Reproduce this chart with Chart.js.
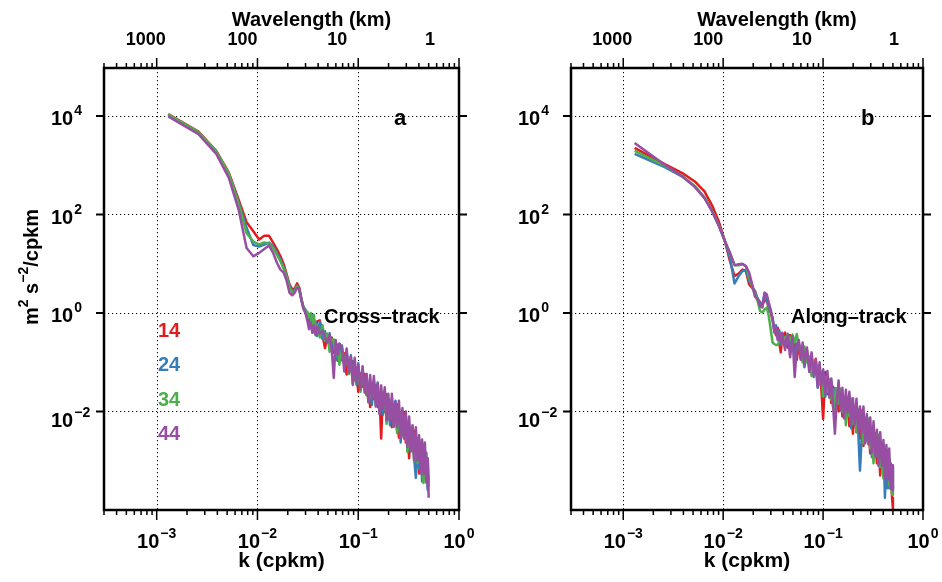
<!DOCTYPE html>
<html>
<head>
<meta charset="utf-8">
<script src="https://cdn.jsdelivr.net/npm/chart.js@4.4.1/dist/chart.umd.min.js"></script>
<style>
  html, body { margin: 0; padding: 0; background: #fff; }
  #wrap { position: relative; width: 942px; height: 582px; }
  canvas { position: absolute; top: 0; left: 0; }
</style>
</head>
<body>
<div id="wrap">
  <canvas id="panelA" width="942" height="582"></canvas>
  <canvas id="panelB" width="942" height="582"></canvas>
</div>
<script>
// Wavenumber k (cpkm) shared by every spectrum
const wavenumber = [
  0.0013, 0.0026, 0.0039, 0.0052, 0.0065, 0.0078, 0.0091, 0.0104, 0.0117, 0.013,
  0.0143, 0.0156, 0.0169, 0.0182, 0.0195, 0.0208, 0.0221, 0.0234, 0.0247, 0.026,
  0.0273, 0.0286, 0.0299,
  0.0312, 0.0325, 0.0338, 0.0351, 0.0364, 0.0377, 0.039, 0.0416, 0.0442, 0.0468,
  0.0494, 0.052, 0.0546, 0.0572, 0.0598, 0.0624, 0.065, 0.0689, 0.0728, 0.0767,
  0.0806, 0.0845, 0.0884, 0.0923, 0.0962, 0.1001, 0.1053, 0.1105, 0.1157, 0.1209,
  0.1261, 0.1313, 0.1365, 0.143, 0.1495, 0.156, 0.1625, 0.169, 0.1755, 0.1833,
  0.1911, 0.1989, 0.2067, 0.2158, 0.2249, 0.234, 0.2431, 0.2535, 0.2639, 0.2743,
  0.2847, 0.2964, 0.3081, 0.3198, 0.3328, 0.3458, 0.3588, 0.3731, 0.3874, 0.4017,
  0.416, 0.4303, 0.4446, 0.4589, 0.4745, 0.4901, 0.5
];

// Spectral levels, stored as log10 of (m^2 s^-2 / cpkm)
// Cross-track spectra, levels 14 / 24 / 34 / 44
const crossTrack14 = [
  4.04, 3.68, 3.29, 2.85, 2.30, 1.84, 1.66, 1.49, 1.57, 1.57, 1.43, 1.29, 1.15, 0.99, 0.78, 0.58, 0.48, 0.49, 0.60, 0.51, 0.28, 0.11, 0.05,
  0.00, -0.19, -0.03, -0.40, -0.18, -0.38, -0.17, -0.15, -0.45, -0.71, -0.46, -0.65, -0.50, -0.81, -0.70, -0.97, -0.63, -0.96, -0.82, -1.25,
  -0.96, -1.16, -0.98, -1.36, -1.18, -1.60, -1.23, -1.50, -1.24, -1.67, -1.46, -1.91, -1.44, -1.75, -1.46, -1.91, -1.65, -2.55, -1.64, -2.01,
  -1.65, -2.16, -1.86, -2.32, -1.86, -2.20, -1.86, -2.53, -2.08, -2.48, -2.03, -2.63, -2.34, -2.95, -2.34, -2.81, -2.39, -3.02, -2.65, -3.26,
  -2.66, -3.17, -2.68, -3.38, -2.99, -3.55, -3.35
];
const crossTrack24 = [
  4.02, 3.66, 3.27, 2.82, 2.25, 1.73, 1.38, 1.35, 1.39, 1.43, 1.35, 1.22, 1.08, 0.93, 0.74, 0.55, 0.44, 0.45, 0.55, 0.48, 0.28, 0.12, 0.07,
  -0.08, -0.03, -0.27, -0.05, -0.32, -0.18, -0.47, -0.18, -0.53, -0.37, -0.60, -0.41, -0.78, -0.59, -0.95, -0.64, -0.91, -0.66, -1.06, -0.82,
  -1.16, -0.86, -1.31, -1.11, -1.46, -1.02, -1.53, -1.25, -1.56, -1.24, -1.74, -1.44, -1.87, -1.43, -1.83, -1.41, -1.85, -1.61, -2.07, -1.58,
  -2.10, -1.79, -2.28, -1.80, -2.18, -1.78, -2.39, -2.00, -2.63, -2.08, -2.48, -2.08, -2.79, -2.30, -2.74, -2.31, -2.94, -3.35, -2.58, -3.16,
  -2.63, -3.42, -2.83, -3.33, -2.84, -3.60, -3.30
];
const crossTrack34 = [
  4.03, 3.67, 3.28, 2.83, 2.22, 1.62, 1.45, 1.39, 1.43, 1.41, 1.32, 1.18, 1.05, 0.90, 0.72, 0.52, 0.42, 0.44, 0.54, 0.47, 0.27, 0.10, 0.02,
  0.03, -0.09, 0.00, -0.25, -0.04, -0.43, -0.24, -0.50, -0.25, -0.57, -0.42, -0.79, -0.54, -0.54, -0.87, -0.71, -1.05, -0.76, -1.00, -0.80,
  -1.24, -1.01, -1.44, -1.06, -1.36, -1.08, -1.60, -1.22, -1.52, -1.29, -1.82, -1.44, -1.74, -1.38, -1.88, -1.56, -2.03, -1.59, -1.92, -1.61,
  -2.25, -1.76, -2.13, -1.74, -2.31, -1.98, -2.44, -1.93, -2.41, -1.98, -2.53, -2.23, -2.82, -2.25, -2.76, -2.35, -3.01, -2.56, -3.05, -2.56,
  -3.11, -2.75, -3.45, -2.83, -3.44, -3.00, -3.40
];
const crossTrack44 = [
  3.99, 3.63, 3.23, 2.74, 2.10, 1.32, 1.15, 1.22, 1.30, 1.37, 1.22, 1.02, 0.88, 0.82, 0.65, 0.41, 0.36, 0.41, 0.51, 0.48, 0.26, 0.08, 0.00,
  -0.15, -0.33, -0.20, -0.40, -0.25, -0.45, -0.28, -0.42, -0.35, -0.50, -0.60, -0.45, -0.75, -1.32, -0.55, -0.85, -0.62, -0.70, -1.19, -0.72,
  -1.21, -0.89, -1.46, -0.91, -1.38, -1.05, -1.55, -1.08, -1.62, -1.24, -1.80, -1.26, -1.74, -1.28, -1.90, -1.43, -2.05, -1.47, -1.94, -1.51,
  -2.18, -1.64, -2.18, -1.64, -2.31, -1.80, -2.32, -1.78, -2.53, -1.93, -2.55, -2.00, -2.72, -2.10, -2.81, -2.28, -2.99, -2.32, -3.00, -2.48,
  -3.26, -2.57, -3.28, -2.63, -3.44, -2.95, -3.75
];

// Along-track spectra, levels 14 / 24 / 34 / 44
const alongTrack14 = [
  3.35, 3.02, 2.84, 2.67, 2.47, 2.17, 1.84, 1.46, 1.05, 0.75, 0.80, 0.88, 0.85, 0.58, 0.51, 0.45, 0.28, 0.22, 0.18, 0.24, 0.28, 0.07, 0.01,
  -0.13, -0.33, -0.45, -0.30, -0.60, -0.80, -0.50, -0.40, -0.70, -0.45, -0.75, -0.55, -0.95, -0.62, -0.92, -0.70, -1.00, -0.75, -1.12, -0.88,
  -1.22, -0.93, -1.39, -1.20, -1.55, -2.15, -1.20, -1.65, -1.42, -1.83, -1.50, -1.93, -1.56, -2.00, -1.61, -2.10, -1.74, -2.13, -1.80, -2.30,
  -1.90, -2.45, -1.92, -2.42, -2.04, -2.55, -2.07, -2.70, -2.15, -2.60, -2.30, -2.85, -2.35, -2.78, -2.48, -3.05, -2.60, -3.30, -2.70, -3.22,
  -2.80, -3.35, -2.95, -3.50, -3.05, -3.75, -3.97
];
const alongTrack24 = [
  3.23, 2.96, 2.77, 2.57, 2.34, 2.06, 1.76, 1.46, 1.12, 0.60, 0.75, 0.85, 0.88, 0.65, 0.55, 0.42, 0.30, 0.20, 0.15, 0.41, 0.28, 0.12, 0.03,
  -0.09, -0.35, -0.25, -0.50, -0.35, -0.65, -0.45, -0.69, -0.42, -0.71, -0.53, -0.88, -0.62, -0.61, -0.92, -0.76, -1.10, -0.82, -1.06, -0.86,
  -1.30, -1.08, -1.52, -1.15, -1.45, -1.18, -1.70, -1.32, -1.62, -1.38, -1.92, -1.53, -1.83, -1.47, -1.96, -1.65, -2.12, -1.68, -2.01, -1.70,
  -2.34, -1.85, -2.22, -1.84, -2.41, -3.20, -2.55, -2.05, -2.53, -2.10, -2.65, -2.35, -2.93, -2.35, -2.86, -2.44, -3.10, -2.66, -3.15, -2.66,
  -3.75, -2.86, -3.56, -2.95, -3.57, -3.14, -3.55
];
const alongTrack34 = [
  3.29, 2.99, 2.78, 2.58, 2.35, 2.07, 1.77, 1.46, 1.22, 0.97, 0.97, 0.99, 0.95, 0.72, 0.55, 0.38, 0.25, 0.04, 0.01, 0.07, 0.11, -0.06, -0.33,
  -0.60, -0.63, -0.65, -0.65, -0.58, -0.52, -0.47, -0.50, -0.45, -0.55, -0.44, -0.60, -0.43, -0.70, -0.75, -1.00, -0.68, -1.00, -0.88, -1.28,
  -1.02, -1.23, -1.06, -1.45, -1.27, -1.70, -1.30, -1.60, -1.34, -1.76, -1.56, -2.00, -1.53, -1.84, -1.54, -2.00, -1.74, -2.28, -1.73, -2.10,
  -1.74, -2.25, -1.95, -2.42, -1.96, -2.30, -1.97, -2.65, -2.20, -2.60, -2.15, -2.75, -2.45, -3.05, -2.44, -2.90, -2.48, -3.12, -2.75, -3.36,
  -2.77, -3.28, -2.79, -3.50, -3.12, -3.69, -3.50
];
const alongTrack44 = [
  3.45, 3.01, 2.77, 2.56, 2.33, 2.05, 1.76, 1.46, 1.22, 0.97, 0.99, 1.00, 0.95, 0.82, 0.58, 0.33, 0.28, 0.14, 0.11, 0.41, 0.38, 0.21, 0.07,
  -0.13, -0.40, -0.30, -0.55, -0.38, -0.60, -0.40, -0.75, -0.45, -0.90, -0.48, -1.30, -0.70, -0.55, -0.95, -0.60, -1.05, -0.70, -1.20, -0.80,
  -1.27, -0.95, -1.50, -1.00, -1.47, -1.15, -1.65, -1.18, -1.72, -1.33, -1.90, -2.45, -1.83, -1.37, -1.98, -1.52, -2.14, -1.56, -2.03, -1.60,
  -2.27, -1.73, -2.27, -1.74, -2.41, -1.90, -2.43, -1.90, -2.65, -2.05, -2.67, -2.12, -2.83, -2.20, -2.91, -2.37, -3.08, -2.42, -3.10, -2.58,
  -3.37, -2.68, -3.39, -2.75, -3.57, -3.09, -3.60
];

const levelLabels = ['14', '24', '34', '44'];
const levelColors = ['#e41a1c', '#377eb8', '#4daf4a', '#984ea3'];
const wavelengthTicks = [1000, 100, 10, 1];      // km, top axis
const xLabelExponents = [-3, -2, -1, 0];          // k axis labels 10^n
const yLabelExponents = [4, 2, 0, -2];            // spectral axis labels 10^n

const FONT = '"Liberation Sans", Arial, Helvetica, sans-serif';

// draws "10" with a superscript exponent; y is the baseline of "10"
function drawPow(ctx, exp, x, y, align) {
  const base = '10';
  const sup = exp < 0 ? '\u2212' + (-exp) : String(exp);
  ctx.font = 'bold 20px ' + FONT;
  const wb = ctx.measureText(base).width;
  ctx.font = 'bold 14px ' + FONT;
  const ws = ctx.measureText(sup).width;
  const total = wb + 1 + ws;
  const x0 = align === 'center' ? x - total / 2 : x;
  ctx.textAlign = 'left';
  ctx.textBaseline = 'alphabetic';
  ctx.font = 'bold 20px ' + FONT;
  ctx.fillText(base, x0, y);
  ctx.font = 'bold 14px ' + FONT;
  ctx.fillText(sup, x0 + wb + 1, y - 10);
}

// draws a run of [text, size, raise] pieces, left to right from x
function drawRun(ctx, pieces, x, y) {
  let cx = x;
  ctx.textAlign = 'left';
  ctx.textBaseline = 'alphabetic';
  for (const [t, size, raise] of pieces) {
    ctx.font = 'bold ' + size + 'px ' + FONT;
    ctx.fillText(t, cx, y - raise);
    cx += ctx.measureText(t).width;
  }
}
function runWidth(ctx, pieces) {
  let w = 0;
  for (const [t, size] of pieces) {
    ctx.font = 'bold ' + size + 'px ' + FONT;
    w += ctx.measureText(t).width;
  }
  return w;
}

const gridPlugin = {
  id: 'dottedGrid',
  beforeDatasetsDraw(chart) {
    const { ctx, chartArea: a, scales: { x, y } } = chart;
    ctx.save();
    ctx.strokeStyle = '#000';
    ctx.lineWidth = 1;
    ctx.setLineDash([1.2, 2.8]);
    for (const e of xLabelExponents) {
      const v = Math.pow(10, e);
      if (v >= x.max) continue;
      const px = Math.round(x.getPixelForValue(v)) + 0.5;
      ctx.beginPath(); ctx.moveTo(px, a.top); ctx.lineTo(px, a.bottom); ctx.stroke();
    }
    for (const e of yLabelExponents) {
      const py = Math.round(y.getPixelForValue(Math.pow(10, e))) + 0.5;
      ctx.beginPath(); ctx.moveTo(a.left, py); ctx.lineTo(a.right, py); ctx.stroke();
    }
    ctx.restore();
  }
};

const framePlugin = {
  id: 'frame',
  afterDraw(chart, args, opts) {
    const { ctx, chartArea: a, scales: { x, y } } = chart;
    ctx.save();
    ctx.fillStyle = '#000';
    ctx.strokeStyle = '#000';

    // axis box
    ctx.lineWidth = 2.5;
    ctx.strokeRect(a.left, a.top, a.right - a.left, a.bottom - a.top);

    // k-axis ticks (bottom and top), decades long, 2..9 short
    ctx.lineWidth = 1.5;
    for (let e = -4; e <= 0; e++) {
      for (let m = 1; m <= 9; m++) {
        const v = m * Math.pow(10, e);
        if (v < x.min * 0.999 || v > x.max * 1.001) continue;
        const px = x.getPixelForValue(v);
        const len = m === 1 ? 10 : 5;
        ctx.beginPath();
        ctx.moveTo(px, a.bottom); ctx.lineTo(px, a.bottom + len);
        ctx.moveTo(px, a.top); ctx.lineTo(px, a.top - len);
        ctx.stroke();
      }
    }
    // spectral-axis ticks (left and right)
    ctx.lineWidth = 2;
    for (const e of yLabelExponents) {
      const py = y.getPixelForValue(Math.pow(10, e));
      ctx.beginPath();
      ctx.moveTo(a.left - 8, py); ctx.lineTo(a.left, py);
      ctx.moveTo(a.right, py); ctx.lineTo(a.right + 8, py);
      ctx.stroke();
    }

    // bottom labels
    for (const e of xLabelExponents) {
      drawPow(ctx, e, x.getPixelForValue(Math.pow(10, e)), a.bottom + 38, 'center');
    }
    // left labels
    for (const e of yLabelExponents) {
      const py = y.getPixelForValue(Math.pow(10, e));
      drawPow(ctx, e, a.left - 53, py + (e < 0 ? 16 : 9.5), 'left');
    }
    // top wavelength labels
    const nudge = [11, 15, 21, 29];
    ctx.font = 'bold 18px ' + FONT;
    ctx.textAlign = 'center';
    ctx.textBaseline = 'alphabetic';
    wavelengthTicks.forEach((lam, i) => {
      ctx.fillText(String(lam), x.getPixelForValue(1 / lam) - nudge[i], a.top - 23);
    });

    const cx = (a.left + a.right) / 2;
    ctx.font = 'bold 20px ' + FONT;
    ctx.fillText('Wavelength (km)', cx + 30, a.top - 42);
    ctx.font = 'bold 21px ' + FONT;
    ctx.fillText('k (cpkm)', cx, a.bottom + 57);

    // panel letter and track label
    ctx.textAlign = 'left';
    ctx.font = 'bold 22px ' + FONT;
    ctx.fillText(opts.letter, a.left + 290, a.top + 57);
    ctx.font = 'bold 20px ' + FONT;
    ctx.fillText(opts.track, a.left + 220, a.top + 255);

    // level key
    if (opts.key) {
      ctx.font = 'bold 20px ' + FONT;
      levelLabels.forEach((lab, i) => {
        ctx.fillStyle = levelColors[i];
        ctx.fillText(lab, a.left + 54, a.top + 269 + i * 34.3);
      });
      ctx.fillStyle = '#000';
    }

    // vertical axis title
    if (opts.yTitle) {
      const pieces = [['m', 20, 0], ['2', 14, 10], [' s', 20, 0], ['\u22122', 14, 10], ['/cpkm', 20, 0]];
      const w = runWidth(ctx, pieces);
      ctx.translate(a.left - 66, (a.top + a.bottom) / 2 - 22);
      ctx.rotate(-Math.PI / 2);
      drawRun(ctx, pieces, -w / 2, 0);
    }
    ctx.restore();
  }
};

function toPoints(levels) {
  return wavenumber.map((k, i) => ({ x: k, y: Math.pow(10, levels[i]) }));
}

function makePanel(canvasId, seriesList, padding, frameOpts) {
  const datasets = seriesList.map((s, i) => ({
    label: levelLabels[i],
    data: toPoints(s),
    borderColor: levelColors[i],
    backgroundColor: levelColors[i],
    borderWidth: 2.5,
    pointRadius: 0,
    tension: 0,
    fill: false,
    borderJoinStyle: 'round',
    order: 4 - i
  }));
  return new Chart(document.getElementById(canvasId), {
    type: 'line',
    data: { datasets },
    options: {
      responsive: false,
      animation: false,
      devicePixelRatio: 1,
      events: [],
      layout: { padding },
      scales: {
        x: { type: 'logarithmic', min: 3e-4, max: 1, display: false },
        y: { type: 'logarithmic', min: 1e-4, max: 9.4e4, display: false }
      },
      plugins: {
        legend: { display: false },
        tooltip: { enabled: false },
        frame: frameOpts
      }
    },
    plugins: [gridPlugin, framePlugin]
  });
}

makePanel('panelA', [crossTrack14, crossTrack24, crossTrack34, crossTrack44],
  { left: 104, right: 483, top: 68, bottom: 72 },
  { letter: 'a', track: 'Cross\u2013track', key: true, yTitle: true });

makePanel('panelB', [alongTrack14, alongTrack24, alongTrack34, alongTrack44],
  { left: 571, right: 19, top: 68, bottom: 72 },
  { letter: 'b', track: 'Along\u2013track', key: false, yTitle: false });
</script>
</body>
</html>
